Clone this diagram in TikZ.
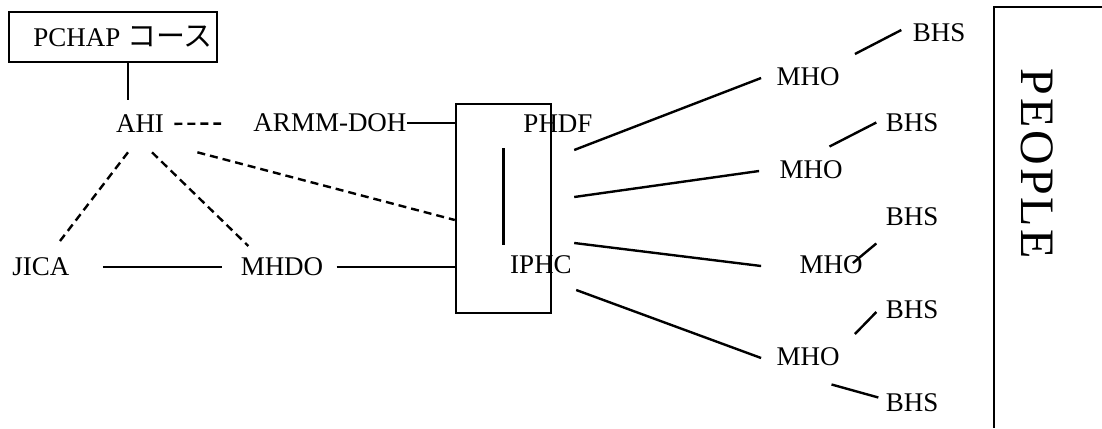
\documentclass[tikz,border=0pt]{standalone}
\usepackage{fontspec}
\setmainfont{Liberation Serif}
\newfontfamily\cjk{Noto Sans CJK JP}
\tikzset{
  lbl/.style={font=\fontsize{13.5}{16}\selectfont, inner sep=0pt},
  link/.style={line width=1.2pt},
  dashlink/.style={line width=1.2pt, dash pattern=on 4pt off 2.5pt}
}
\begin{document}
\begin{tikzpicture}[x=0.5pt,y=-0.5pt]
\useasboundingbox (0,0) rectangle (1102,428);
\node[draw, line width=1.2pt, minimum width=104pt, minimum height=25pt, inner sep=0pt] (pchap) at (113,37)
  {\kern10pt\fontsize{13.5}{16}\selectfont PCHAP {\cjk\fontsize{14.5}{17}\selectfont コース}};
\node[lbl] (ahi) at (140,124) {AHI};
\node[lbl] (armm) at (330,123) {ARMM-DOH};
\node[lbl] (jica) at (41,267) {JICA};
\node[lbl] (mhdo) at (282,267) {MHDO};
\node[draw, line width=1.2pt, minimum width=47.5pt, minimum height=104.5pt, inner sep=0pt] (box) at (503.5,208.5) {};
\node[lbl] (phdf) at (558,124) {PHDF};
\node[lbl] (iphc) at (541,265) {IPHC};
\node[lbl] (mho1) at (808,77) {MHO};
\node[lbl] (mho2) at (811,170) {MHO};
\node[lbl] (mho3) at (831,265) {MHO};
\node[lbl] (mho4) at (808,357) {MHO};
\node[lbl] (bhs1) at (939,33) {BHS};
\node[lbl] (bhs2) at (912,123) {BHS};
\node[lbl] (bhs3) at (912,217) {BHS};
\node[lbl] (bhs4) at (912,310) {BHS};
\node[lbl] (bhs5) at (912,403) {BHS};
\node[font=\fontsize{24}{28}\selectfont\addfontfeature{LetterSpace=6}, inner sep=0pt, rotate=-90] (people) at (1037,164) {PEOPLE};
\draw[link] (1102,7) -| (994,428);
\draw[link] ([xshift=7.5pt]pchap.south) -- ([xshift=-6pt,yshift=7.5pt]ahi.north);
\draw[dashlink, shorten <=5pt, shorten >=16pt] (ahi) -- (armm);
\draw[link] (armm) -- (armm -| box.west);
\draw[dashlink] ([shift={(-6pt,-9.5pt)}]ahi.south) -- ([shift={(9.5pt,8.25pt)}]jica.north);
\draw[dashlink] ([shift={(6pt,-9.5pt)}]ahi.south) -- ([shift={(4pt,5.75pt)}]mhdo.north west);
\draw[dashlink] ([shift={(16.5pt,-9.5pt)}]ahi.south east) -- ([yshift=-5.75pt]box.west);
\draw[link, shorten <=16.5pt, shorten >=9pt] (jica) -- (mhdo);
\draw[link, shorten <=6.5pt] (mhdo) -- (mhdo -| box.west);
\draw[link] ([yshift=30.25pt]box.center) -- ([yshift=-18.25pt]box.center);
\foreach \i/\ys/\xs/\xe in {1/29.25/11/-7.5, 2/5.75/11/-10, 3/-17.25/11/-19, 4/-40.75/12/-7.5}
  \draw[link] ([shift={(\xs pt,\ys pt)}]box.east) -- ([shift={(\xe pt,-0.5pt)}]mho\i.west);
\draw[link] ([shift={(7.5pt,6.75pt)}]mho1.north east) -- ([shift={(-5.5pt,1.5pt)}]bhs1.west);
\draw[link] ([shift={(9.25pt,7pt)}]mho2.north) -- ([shift={(-4.5pt,0.25pt)}]bhs2.west);
\draw[link] ([shift={(-5pt,1pt)}]mho3.east) -- ([shift={(-4.5pt,-8.5pt)}]bhs3.south west);
\draw[link] ([shift={(7.5pt,6.75pt)}]mho4.north east) -- ([shift={(-4.5pt,-1pt)}]bhs4.west);
\draw[link] ([shift={(11.75pt,-9pt)}]mho4.south) -- ([shift={(-3.5pt,2.75pt)}]bhs5.west);
\end{tikzpicture}
\end{document}
